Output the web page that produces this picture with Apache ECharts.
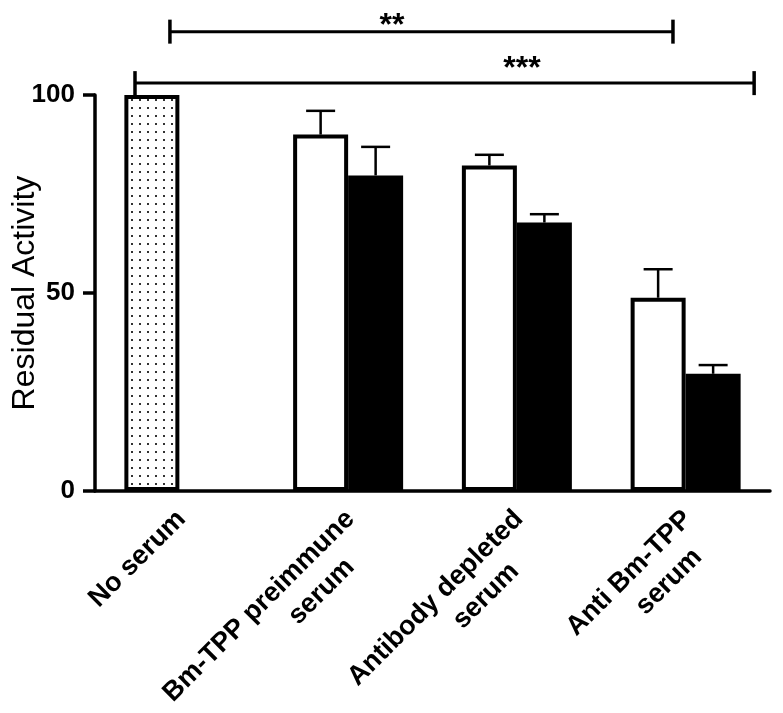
<!DOCTYPE html>
<html><head><meta charset="utf-8">
<script src="https://cdn.jsdelivr.net/npm/echarts@6/dist/echarts.min.js"></script>
<style>html,body{margin:0;padding:0;background:#fff}#c{width:783px;height:713px}</style>
</head><body><div id="c"></div>
<script>
// ---- data ----
const categories = ['No serum', 'Bm-TPP preimmune\nserum', 'Antibody depleted\nserum', 'Anti Bm-TPP\nserum'];
const noSerumValues = [100, null, null, null];
const openValues = [null, 90, 82.2, 48.8];
const filledValues = [null, 79.7, 67.8, 29.6];
const openErrTop = [null, 96, 84.9, 56];
const filledErrTop = [null, 86.9, 69.9, 31.8];
const yTicks = [0, 50, 100];
// significance brackets: from/to in category units relative to first category centre, y in value units
const bracketFrom = [-0.056, -0.263];
const bracketTo = [2.925, 3.406];
const bracketY = [116, 103];
const bracketLabel = ['**', '***'];
const bracketLabelX = [1.26, 2.03];
const bracketLabelY = [121.5, 110.5];

// ---- styles ----
const FONT = 'Liberation Sans, Arial, sans-serif';
const BAR_W = 55;
const pat = document.createElement('canvas');
pat.width = 8; pat.height = 8;
const pctx = pat.getContext('2d');
pctx.fillStyle = '#fff'; pctx.fillRect(0, 0, 8, 8);
pctx.fillStyle = '#333'; pctx.fillRect(3, 3, 2, 2);

const leftData = categories.map((c, i) => {
  if (noSerumValues[i] != null) return { value: noSerumValues[i], itemStyle: { color: { image: pat, repeat: 'repeat' } } };
  return openValues[i] == null ? '-' : openValues[i];
});
const rightData = filledValues.map(v => v == null ? '-' : v);

const errData = [];
categories.forEach((c, i) => {
  if (openErrTop[i] != null) errData.push([i, openValues[i], openErrTop[i], -1]);
  if (filledErrTop[i] != null) errData.push([i, filledValues[i], filledErrTop[i], 1]);
});
const brData = bracketY.map((y, k) => [0, y, bracketFrom[k], bracketTo[k], bracketLabelX[k], bracketLabelY[k], k]);

const LH = 34;
const padR = [0, 34, 40, 20];
const richStyle = p => ({ padding: [0, p, 0, 0], fontFamily: FONT, fontWeight: 'bold', fontSize: 27, lineHeight: LH, color: '#000' });

const chart = echarts.init(document.getElementById('c'), null, { renderer: 'canvas' });
chart.setOption({
  backgroundColor: '#fff',
  animation: false,
  grid: { left: 95, right: 13, top: 95, bottom: 222, containLabel: false, outerBoundsMode: 'none' },
  xAxis: {
    type: 'category',
    data: categories,
    axisLine: { show: true, lineStyle: { color: '#000', width: 3.5 } },
    axisTick: { show: false },
    axisLabel: {
      rotate: 45, interval: 0, margin: 2,
      align: 'right', verticalAlign: 'top', padding: [0, 14, 0, 0],
      color: '#000', fontFamily: FONT, fontWeight: 'bold', fontSize: 27, lineHeight: LH,
      formatter: (v, i) => {
        const parts = v.split('\n');
        if (parts.length < 2) return parts[0];
        return parts[0] + '\n{p' + i + '|' + parts[1] + '}';
      },
      rich: { p1: richStyle(padR[1]), p2: richStyle(padR[2]), p3: richStyle(padR[3]) }
    },
    splitLine: { show: false }
  },
  yAxis: {
    type: 'value', min: yTicks[0], max: yTicks[yTicks.length - 1], interval: yTicks[1] - yTicks[0],
    name: 'Residual Activity', nameLocation: 'middle', nameGap: 54, nameRotate: 90, nameMoveOverlap: false,
    nameTextStyle: { fontFamily: FONT, fontSize: 32, color: '#000' },
    axisLine: { show: true, lineStyle: { color: '#000', width: 3.5 } },
    axisTick: { show: true, length: 12, inside: false, lineStyle: { color: '#000', width: 3.5 } },
    axisLabel: { margin: 20, color: '#000', fontFamily: FONT, fontWeight: 'bold', fontSize: 26 },
    splitLine: { show: false }
  },
  series: [
    {
      type: 'bar', data: leftData, barWidth: BAR_W, barGap: '0%',
      itemStyle: { color: '#fff', borderColor: '#000', borderWidth: 4 }, z: 2
    },
    {
      type: 'bar', data: rightData, barWidth: BAR_W, barGap: '0%',
      itemStyle: { color: '#000', borderColor: '#000', borderWidth: 4 }, z: 2
    },
    {
      type: 'custom', data: errData, encode: { x: 0, y: 2 }, z: 3, clip: false,
      renderItem: (params, api) => {
        const i = api.value(0), side = api.value(3);
        const base = api.coord([i, api.value(1)]);
        const top = api.coord([i, api.value(2)]);
        const x = base[0] + side * BAR_W / 2;
        return { type: 'group', children: [
          { type: 'line', shape: { x1: x, y1: base[1], x2: x, y2: top[1] }, style: { stroke: '#000', lineWidth: 2.5 } },
          { type: 'line', shape: { x1: x - 14.5, y1: top[1], x2: x + 14.5, y2: top[1] }, style: { stroke: '#000', lineWidth: 2.5 } }
        ] };
      }
    },
    {
      type: 'custom', data: brData, encode: { x: 0, y: 1 }, z: 4, clip: false,
      renderItem: (params, api) => {
        const p = api.coord([0, api.value(1)]);
        const cw = api.size([1, 0])[0];
        const x1 = p[0] + api.value(2) * cw, x2 = p[0] + api.value(3) * cw;
        const lp = api.coord([0, api.value(5)]);
        const lx = p[0] + api.value(4) * cw;
        const k = api.value(6);
        return { type: 'group', children: [
          { type: 'line', shape: { x1: x1, y1: p[1], x2: x2, y2: p[1] }, style: { stroke: '#000', lineWidth: 3 } },
          { type: 'line', shape: { x1: x1, y1: p[1] - 12, x2: x1, y2: p[1] + 12 }, style: { stroke: '#000', lineWidth: 3.5 } },
          { type: 'line', shape: { x1: x2, y1: p[1] - 12, x2: x2, y2: p[1] + 12 }, style: { stroke: '#000', lineWidth: 3.5 } },
          { type: 'text', style: { text: bracketLabel[k], x: lx, y: lp[1], align: 'center', verticalAlign: 'top', fontFamily: FONT, fontWeight: 'bold', fontSize: 32, fill: '#000' } }
        ] };
      }
    }
  ]
});
</script></body></html>
